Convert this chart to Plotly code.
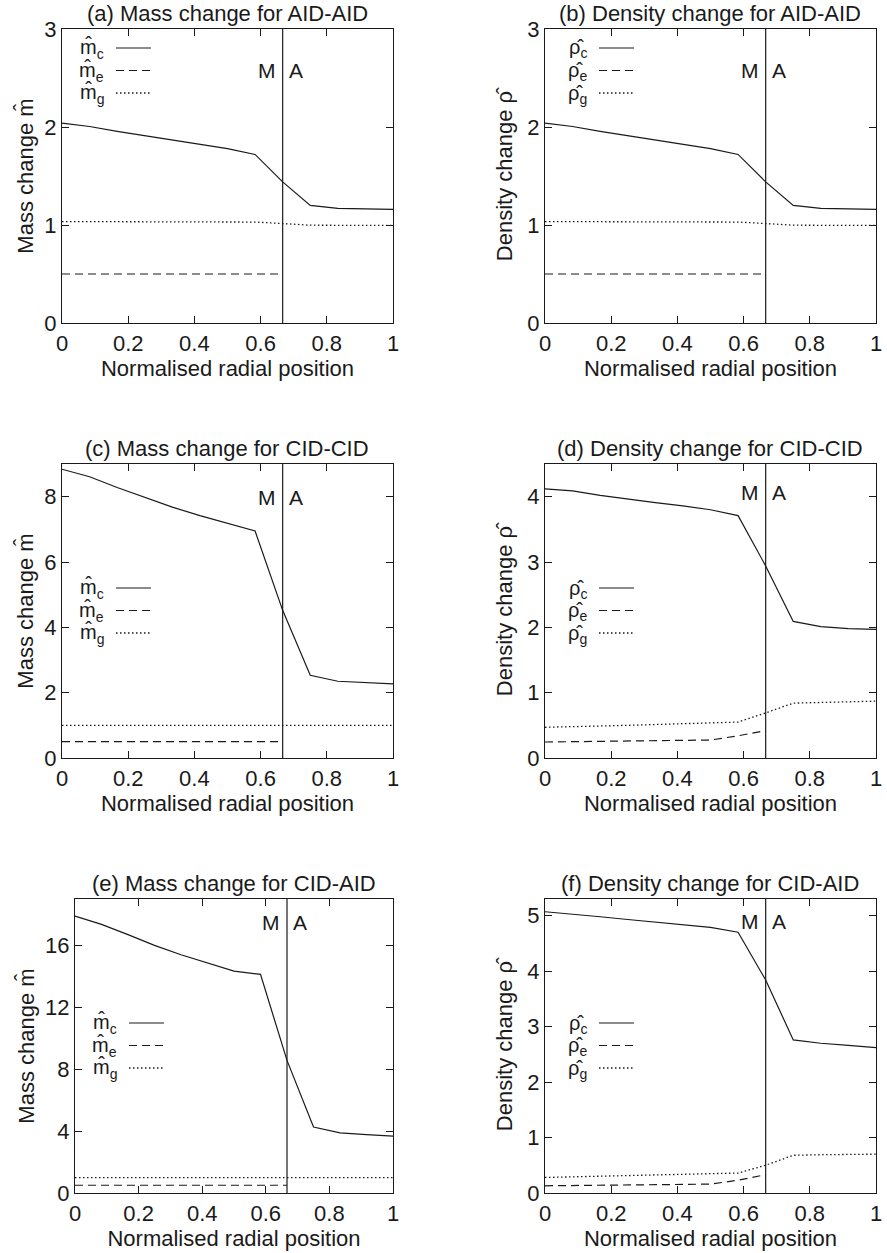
import plotly.graph_objects as go
from plotly.subplots import make_subplots

# ---------------- data ----------------
x_nodes = [0, 1/12, 2/12, 3/12, 4/12, 5/12, 6/12, 7/12, 8/12, 9/12, 10/12, 11/12, 1]
x_inner = [0, 1/12, 2/12, 3/12, 4/12, 5/12, 6/12, 7/12, 8/12]   # matrix zone only
boundary = 2/3                                                     # M | A interface

# (a) Mass change AID-AID
a_c = [2.04, 2.005, 1.955, 1.91, 1.865, 1.82, 1.78, 1.72, 1.44, 1.20, 1.17, 1.165, 1.16]
a_e = [0.5, 0.5, 0.5, 0.5, 0.5, 0.5, 0.5, 0.5, 0.5]
a_g = [1.035, 1.035, 1.035, 1.035, 1.035, 1.035, 1.035, 1.03, 1.015, 0.998, 0.997, 0.997, 0.997]
# (b) Density change AID-AID
b_c = [2.04, 2.005, 1.955, 1.91, 1.865, 1.82, 1.78, 1.72, 1.44, 1.20, 1.17, 1.165, 1.16]
b_e = [0.5, 0.5, 0.5, 0.5, 0.5, 0.5, 0.5, 0.5, 0.5]
b_g = [1.035, 1.035, 1.035, 1.035, 1.035, 1.035, 1.035, 1.03, 1.015, 0.998, 0.997, 0.997, 0.997]
# (c) Mass change CID-CID
c_c = [8.84, 8.61, 8.28, 7.97, 7.68, 7.42, 7.18, 6.95, 4.52, 2.53, 2.35, 2.30, 2.27]
c_e = [0.5, 0.5, 0.5, 0.5, 0.5, 0.5, 0.5, 0.5, 0.5]
c_g = [1.0, 1.0, 1.0, 1.0, 1.0, 1.0, 1.0, 1.0, 1.0, 1.0, 1.0, 1.0, 1.0]
# (d) Density change CID-CID
d_c = [4.12, 4.09, 4.02, 3.96, 3.91, 3.86, 3.80, 3.71, 2.94, 2.09, 2.01, 1.98, 1.97]
d_e = [0.245, 0.25, 0.255, 0.26, 0.265, 0.27, 0.275, 0.34, 0.42]
d_g = [0.47, 0.485, 0.49, 0.50, 0.51, 0.52, 0.53, 0.55, 0.69, 0.84, 0.85, 0.86, 0.87]
# (e) Mass change CID-AID
e_c = [17.9, 17.36, 16.7, 16.0, 15.4, 14.85, 14.34, 14.13, 8.57, 4.26, 3.88, 3.77, 3.68]
e_e = [0.5, 0.5, 0.5, 0.5, 0.5, 0.5, 0.5, 0.5, 0.5]
e_g = [1.0, 1.0, 1.0, 1.0, 1.0, 1.0, 1.0, 1.0, 1.0, 1.0, 1.0, 1.0, 1.0]
# (f) Density change CID-AID
f_c = [5.07, 5.03, 4.98, 4.93, 4.88, 4.84, 4.79, 4.70, 3.84, 2.76, 2.70, 2.66, 2.62]
f_e = [0.13, 0.135, 0.14, 0.145, 0.15, 0.155, 0.16, 0.23, 0.33]
f_g = [0.28, 0.29, 0.30, 0.31, 0.32, 0.33, 0.34, 0.36, 0.50, 0.68, 0.69, 0.695, 0.70]

titles = ["(a) Mass change for AID-AID", "(b) Density change for AID-AID",
          "(c) Mass change for CID-CID", "(d) Density change for CID-CID",
          "(e) Mass change for CID-AID", "(f) Density change for CID-AID"]
y_titles = ["Mass change m\u0302", "Density change \u03c1\u0302"] * 3
sym = ["m\u0302", "\u03c1\u0302"] * 3
y_ranges = [[0, 3], [0, 3], [0, 9], [0, 4.5], [0, 19], [0, 5.3]]
y_ticks = [[0, 1, 2, 3], [0, 1, 2, 3], [0, 2, 4, 6, 8], [0, 1, 2, 3, 4],
           [0, 4, 8, 12, 16], [0, 1, 2, 3, 4, 5]]
x_ticks = [0, 0.2, 0.4, 0.6, 0.8, 1]
x_tick_text = ["0", "0.2", "0.4", "0.6", "0.8", "1"]
ma_y = [2.58, 2.58, 7.97, 4.07, 17.5, 4.89]
series = [(a_c, a_e, a_g), (b_c, b_e, b_g), (c_c, c_e, c_g),
          (d_c, d_e, d_g), (e_c, e_e, e_g), (f_c, f_e, f_g)]

# ---------------- layout geometry (pixels) ----------------
W, H = 887, 1253
col_px = [(62, 393), (545, 876), (62, 393), (545, 876), (75, 393), (545, 876)]
row_px = [(29, 323), (29, 323), (464, 758), (464, 758), (899, 1193), (899, 1193)]
ytitle_standoff = [4, 8, 4, 8, 4, 8]
leg_top = [19, 19, 124, 124, 124, 124]
FONT = "Liberation Sans, Arial, sans-serif"
INK = "#1a1a1a"
dashes = ["solid", "8px,5px", "1.5px,2.5px"]
subs = ["c", "e", "g"]

fig = make_subplots(rows=3, cols=2)

shapes = []
annotations = []
for i in range(6):
    r, c = i // 2 + 1, i % 2 + 1
    yc, ye, yg = series[i]
    fig.add_trace(go.Scatter(x=x_nodes, y=yc, mode="lines", showlegend=False,
                             line=dict(color=INK, width=1.2, dash=dashes[0])), row=r, col=c)
    fig.add_trace(go.Scatter(x=x_inner, y=ye, mode="lines", showlegend=False,
                             line=dict(color=INK, width=1.2, dash=dashes[1])), row=r, col=c)
    fig.add_trace(go.Scatter(x=x_nodes, y=yg, mode="lines", showlegend=False,
                             line=dict(color=INK, width=1.3, dash=dashes[2])), row=r, col=c)
    fig.add_vline(x=boundary, line=dict(color=INK, width=1.2), row=r, col=c)

    x0, x1 = col_px[i]
    y0, y1 = row_px[i]
    xd = [x0 / W, x1 / W]
    yd = [1 - y1 / H, 1 - y0 / H]
    k = "" if i == 0 else str(i + 1)

    common = dict(showline=True, linecolor=INK, linewidth=1.2, mirror="ticks",
                  ticks="inside", ticklen=7, tickwidth=1, tickcolor=INK,
                  showgrid=False, zeroline=False, automargin=False,
                  ticklabeloverflow="allow",
                  tickfont=dict(family=FONT, size=22, color=INK))
    fig.layout["xaxis" + k].update(domain=xd, range=[0, 1], tickvals=x_ticks,
                                   ticktext=x_tick_text,
                                   title=dict(text="Normalised radial position",
                                              font=dict(family=FONT, size=22, color=INK),
                                              standoff=0),
                                   **common)
    fig.layout["yaxis" + k].update(domain=yd, range=y_ranges[i], tickvals=y_ticks[i],
                                   title=dict(text=y_titles[i],
                                              font=dict(family=FONT, size=22, color=INK),
                                              standoff=ytitle_standoff[i]),
                                   **common)

    xref = "x" + k
    yref = "y" + k
    annotations.append(dict(text=titles[i], x=(xd[0] + xd[1]) / 2, y=yd[1], xref="paper",
                            yref="paper", xanchor="center", yanchor="bottom", yshift=1,
                            showarrow=False, font=dict(family=FONT, size=22, color=INK)))
    annotations.append(dict(text="M", x=boundary, y=ma_y[i], xref=xref, yref=yref,
                            xanchor="right", yanchor="middle", xshift=-5, showarrow=False,
                            font=dict(family=FONT, size=21, color=INK)))
    annotations.append(dict(text="A", x=boundary, y=ma_y[i], xref=xref, yref=yref,
                            xanchor="left", yanchor="middle", xshift=4, showarrow=False,
                            font=dict(family=FONT, size=21, color=INK)))
    # key (gnuplot style: label then line sample)
    pw = x1 - x0
    ph = y1 - y0
    for j in range(3):
        ypx = leg_top[i] + 22.5 * j
        yfrac = 1 - ypx / ph
        annotations.append(dict(text=sym[i] + "<sub>" + subs[j] + "</sub>",
                                x=44 / pw, y=yfrac, xref=xref + " domain", yref=yref + " domain",
                                xanchor="right", yanchor="middle", yshift=-1, showarrow=False,
                                font=dict(family=FONT, size=20, color=INK)))
        shapes.append(dict(type="line", xref=xref + " domain", yref=yref + " domain",
                           x0=54 / pw, x1=89 / pw, y0=yfrac, y1=yfrac,
                           line=dict(color=INK, width=1.2 if j < 2 else 1.3, dash=dashes[j])))

for s in shapes:
    fig.add_shape(**s)
for a in annotations:
    fig.add_annotation(**a)

fig.update_layout(width=W, height=H, autosize=False,
                  margin=dict(l=0, r=0, t=0, b=0, autoexpand=False),
                  paper_bgcolor="white", plot_bgcolor="white",
                  font=dict(family=FONT, size=22, color=INK),
                  showlegend=False)

# remove the browser's default page margin so the figure sits at the window origin
fig.write_html("out.html",
               config={"displayModeBar": False, "staticPlot": True},
               post_script="document.body.style.margin='0';document.body.style.overflow='hidden';")
